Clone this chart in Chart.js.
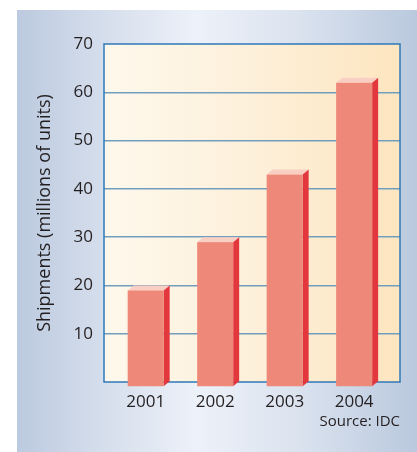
<!DOCTYPE html>
<html>
<head>
<meta charset="utf-8">
<title>Shipments</title>
<script src="https://cdn.jsdelivr.net/npm/chart.js@4/dist/chart.umd.min.js"></script>
<style>
  html, body { margin: 0; padding: 0; background: #ffffff; }
  body { width: 417px; height: 452px; position: relative; overflow: hidden; }
  #panel {
    position: absolute; left: 17px; top: 10px; width: 400px; height: 442px;
    background: linear-gradient(to right, #bccadf 0%, #d9e1ee 25%, #edf1f9 45%, #dbe3ef 70%, #bac9de 100%);
  }
  #panel canvas { display: block; }
</style>
</head>
<body>
<div id="panel"><canvas id="chart" width="400" height="442"></canvas></div>
<script>
// Annual shipments, millions of units
const years = ['2001', '2002', '2003', '2004'];
const shipments = [20, 30, 44, 63];
const yTicks = [0, 10, 20, 30, 40, 50, 60, 70];
const yTitle = 'Shipments (millions of units)';
const sourceNote = 'Source: IDC';

const FONT = "'Open Sans', 'Noto Sans', sans-serif";
const INK = '#231f20';

// Cream-to-peach fill behind the plot
const plotBackground = {
  id: 'plotBackground',
  beforeDraw(chart) {
    const { ctx, chartArea: a } = chart;
    const g = ctx.createLinearGradient(a.left, 0, a.right, 0);
    g.addColorStop(0, '#fef8ec');
    g.addColorStop(0.5, '#fdf0da');
    g.addColorStop(1, '#fde5bf');
    ctx.save();
    ctx.fillStyle = g;
    ctx.fillRect(a.left, a.top, a.right - a.left, a.bottom - a.top);
    ctx.restore();
  }
};

// Blue frame round the plot area
const plotFrame = {
  id: 'plotFrame',
  beforeDatasetsDraw(chart) {
    const { ctx, chartArea: a } = chart;
    ctx.save();
    ctx.strokeStyle = '#2f78b8';
    ctx.lineWidth = 1.5;
    ctx.strokeRect(a.left, a.top, a.right - a.left, a.bottom - a.top);
    ctx.restore();
  }
};

// Extruded bars: front face, lit top and shaded side
const DEPTH_X = 6, DEPTH_Y = 5;
const bars3d = {
  id: 'bars3d',
  afterDatasetsDraw(chart) {
    const { ctx } = chart;
    const meta = chart.getDatasetMeta(0);
    ctx.save();
    meta.data.forEach(el => {
      const { x, y, base, width } = el.getProps(['x', 'y', 'base', 'width'], true);
      const l = x - width / 2, r = x + width / 2;
      const ft = y + DEPTH_Y, fb = base + DEPTH_Y;
      // top
      ctx.fillStyle = '#f9cfc4';
      ctx.beginPath();
      ctx.moveTo(l, ft); ctx.lineTo(l + DEPTH_X, y); ctx.lineTo(r + DEPTH_X, y); ctx.lineTo(r, ft);
      ctx.closePath(); ctx.fill();
      // side
      ctx.fillStyle = '#e2383d';
      ctx.beginPath();
      ctx.moveTo(r, ft); ctx.lineTo(r + DEPTH_X, y); ctx.lineTo(r + DEPTH_X, base); ctx.lineTo(r, fb);
      ctx.closePath(); ctx.fill();
      // front
      ctx.fillStyle = '#ee8878';
      ctx.fillRect(l, ft, width, fb - ft);
    });
    ctx.restore();
  }
};

new Chart(document.getElementById('chart'), {
  type: 'bar',
  data: {
    datasets: [{
      data: years.map((_, i) => ({ x: i, y: shipments[i] })),
      backgroundColor: 'rgba(0,0,0,0)',
      borderWidth: 0,
      barThickness: 36
    }]
  },
  options: {
    responsive: false,
    animation: false,
    events: [],
    layout: { padding: { left: 17, top: 34, right: 17, bottom: 0 } },
    plugins: { legend: { display: false }, tooltip: { enabled: false } },
    scales: {
      x: {
        type: 'linear',
        offset: false,
        min: -0.6,
        max: 3.66,
        afterBuildTicks: s => { s.ticks = years.map((_, i) => ({ value: i })); },
        afterFit: s => { s.height = 70; },
        grid: { display: false, drawTicks: false, offset: false },
        border: { display: false },
        ticks: {
          padding: 10,
          color: INK,
          font: { family: FONT, size: 17 },
          callback: v => years[v]
        },
        title: {
          display: true,
          text: sourceNote,
          align: 'end',
          color: INK,
          font: { family: FONT, size: 15 },
          padding: { top: 0, bottom: 21 }
        }
      },
      y: {
        min: 0,
        max: 70,
        afterBuildTicks: s => { s.ticks = yTicks.map(v => ({ value: v })); },
        afterFit: s => { s.width = 70; },
        grid: {
          drawTicks: false,
          lineWidth: 1.5,
          color: c => (c.tick && c.tick.value > 0 && c.tick.value < 70) ? '#739dbd' : 'rgba(0,0,0,0)'
        },
        border: { display: false },
        ticks: {
          padding: 11,
          color: INK,
          font: { family: FONT, size: 17 },
          callback: v => (v === 0 ? '' : String(v))
        },
        title: {
          display: true,
          text: yTitle,
          color: INK,
          font: { family: FONT, size: 18 },
          padding: { top: 0, bottom: 0 }
        }
      }
    }
  },
  plugins: [plotBackground, plotFrame, bars3d]
});
</script>
</body>
</html>
